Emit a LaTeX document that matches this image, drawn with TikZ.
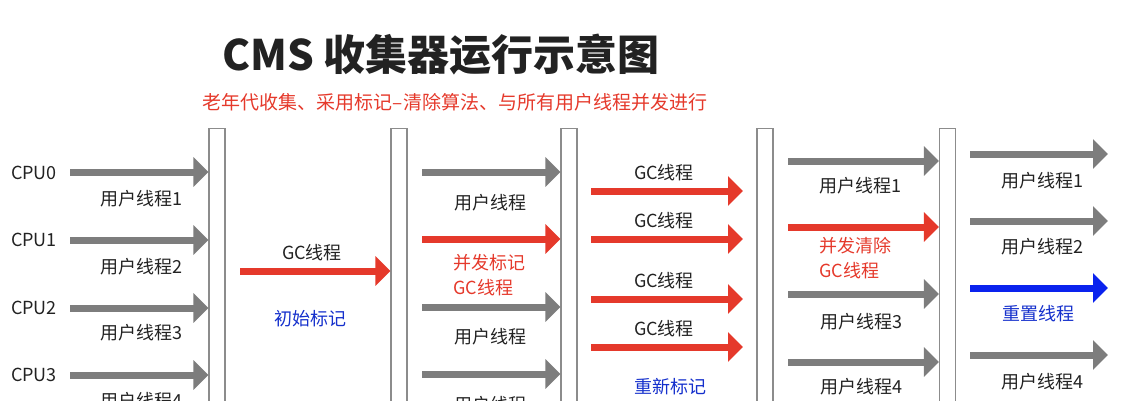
\documentclass[tikz,border=0pt]{standalone}
\usepackage{fontspec}
\setmainfont{Noto Sans CJK SC}
\usepackage{xcolor}
\usetikzlibrary{arrows.meta, positioning}
\definecolor{usrgray}{HTML}{7D7D7D}
\definecolor{bargray}{HTML}{8C8C8C}
\definecolor{gcred}{HTML}{E5392B}
\definecolor{markblue}{HTML}{1530CC}
\definecolor{resetblue}{HTML}{0A22EE}
\definecolor{txt}{HTML}{222222}

\begin{document}
\begin{tikzpicture}[
    x=1pt, y=-1pt,
    bar/.style={
      draw=bargray, 
      fill=white, 
      line width=1.3pt, 
      minimum width=16pt, 
      minimum height=300pt, 
      inner sep=0pt, 
      anchor=north
    },
    arrow/.style={
      line width=7pt, 
      -{Triangle[length=15pt, width=29pt]}
    },
    usr/.style={arrow, draw=usrgray},
    gc/.style={arrow, draw=gcred},
    reset/.style={arrow, draw=resetblue},
    label/.style={
      text=txt, 
      inner sep=0pt, 
      font=\fontsize{18}{25}\selectfont
    },
    redlabel/.style={label, text=gcred, align=left},
    bluelabel/.style={label, text=markblue}
]
\useasboundingbox (0,0) rectangle (1126,400);
\clip (0,0) rectangle (1126,400);

% Title
\node (title) [label, font=\fontsize{42}{46}\selectfont\bfseries] at (441,55) {CMS 收集器运行示意图};
\node (subtitle) [label, text=gcred, font=\fontsize{19}{22}\selectfont] at (455,102) {老年代收集、采用标记–清除算法、与所有用户线程并发进行};

% Safepoints
\node (bar1) [bar] at (217,128) {};
\node (bar2) [bar] at (399,128) {};
\node (bar3) [bar] at (569,128) {};
\node (bar4) [bar] at (765,128) {};
\node (bar5) [bar] at (947.5,128) {};

% Phase 1: user threads on each CPU
\node (cpu0) [label] at (34,173) {CPU0};
\node (cpu1) [label] at (34,240) {CPU1};
\node (cpu2) [label] at (34,308) {CPU2};
\node (cpu3) [label] at (34,375) {CPU3};
\coordinate (a0) at (70,172);
\coordinate (a1) at (70,240);
\coordinate (a2) at (70,308);
\coordinate (a3) at (70,375);
\draw [usr] (a0) -- (a0 -| bar1.west);
\draw [usr] (a1) -- (a1 -| bar1.west);
\draw [usr] (a2) -- (a2 -| bar1.west);
\draw [usr] (a3) -- (a3 -| bar1.west);
\node (u1) [label] at (141,199) {用户线程1};
\node (u2) [label] at (141,267) {用户线程2};
\node (u3) [label] at (141,333) {用户线程3};
\node (u4) [label] at (141,401) {用户线程4};

% Phase 2: initial mark
\coordinate (b0) at (240,271);
\draw [gc] (b0) -- (b0 -| bar2.west);
\node (gcinit) [label] at (312,253) {GC线程};
\node (initmark) [bluelabel] at (310,319) {初始标记};

% Phase 3: concurrent mark
\coordinate (c0) at (422,172);
\coordinate (c1) at (422,239);
\coordinate (c2) at (422,307);
\coordinate (c3) at (422,374);
\draw [usr] (c0) -- (c0 -| bar3.west);
\draw [gc] (c1) -- (c1 -| bar3.west);
\draw [usr] (c2) -- (c2 -| bar3.west);
\draw [usr] (c3) -- (c3 -| bar3.west);
\node (cu1) [label] at (490,203) {用户线程};
\node (cmark) [redlabel, anchor=west] at (453,275) {并发标记\\GC线程};
\node (cu3) [label] at (490,337) {用户线程};
\node (cu4) [label] at (490,405) {用户线程};

% Phase 4: remark
\coordinate (d0) at (591,191);
\coordinate (d1) at (591,239);
\coordinate (d2) at (591,299);
\coordinate (d3) at (591,347);
\coordinate (e0) at (743,191);
\coordinate (e1) at (743,239);
\coordinate (e2) at (743,299);
\coordinate (e3) at (743,347);
\draw [gc] (d0) -- (e0);
\draw [gc] (d1) -- (e1);
\draw [gc] (d2) -- (e2);
\draw [gc] (d3) -- (e3);
\node (gc1) [label] at (664,173) {GC线程};
\node (gc2) [label] at (664,221) {GC线程};
\node (gc3) [label] at (664,281) {GC线程};
\node (gc4) [label] at (664,329) {GC线程};
\node (remark) [bluelabel] at (670,387) {重新标记};

% Phase 5: concurrent sweep
\coordinate (f0) at (788,161);
\coordinate (f1) at (788,227);
\coordinate (f2) at (788,294);
\coordinate (f3) at (788,362);
\draw [usr] (f0) -- (f0 -| bar5.west);
\draw [gc] (f1) -- (f1 -| bar5.west);
\draw [usr] (f2) -- (f2 -| bar5.west);
\draw [usr] (f3) -- (f3 -| bar5.west);
\node (su1) [label] at (860,186) {用户线程1};
\node (sweep) [redlabel, anchor=west] at (819,258.5) {并发清除\\GC线程};
\node (su3) [label] at (861,322) {用户线程3};
\node (su4) [label] at (861,387) {用户线程4};

% Phase 6: reset
\coordinate (g0) at (970,154);
\coordinate (g1) at (970,221);
\coordinate (g2) at (970,288);
\coordinate (g3) at (970,355);
\coordinate (h0) at (1108,154);
\coordinate (h1) at (1108,221);
\coordinate (h2) at (1108,288);
\coordinate (h3) at (1108,355);
\draw [usr] (g0) -- (h0);
\draw [usr] (g1) -- (h1);
\draw [reset] (g2) -- (h2);
\draw [usr] (g3) -- (h3);
\node (ru1) [label] at (1042,181) {用户线程1};
\node (ru2) [label] at (1042,247) {用户线程2};
\node (resetth) [bluelabel] at (1038,314) {重置线程};
\node (ru4) [label] at (1042,382) {用户线程4};

\end{tikzpicture}
\end{document}
